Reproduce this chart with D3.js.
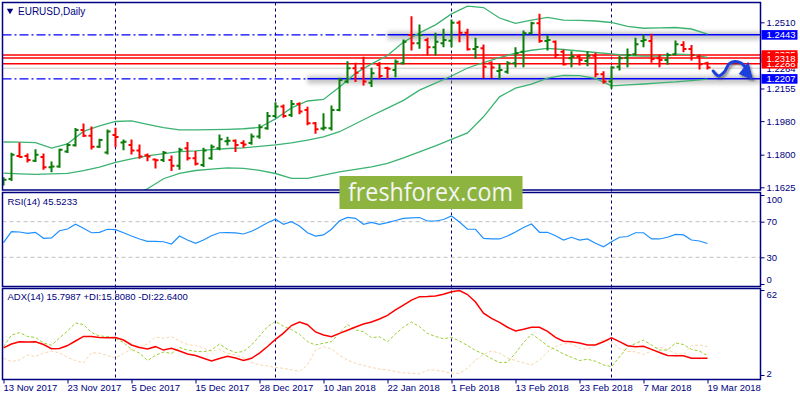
<!DOCTYPE html>
<html>
<head>
<meta charset="utf-8">
<script src="https://cdn.jsdelivr.net/npm/d3@7"></script>
<style>
    body { margin: 0; background: #fff; }
    text { font-family: "Liberation Sans", Arial, sans-serif; }
</style>
</head>
<body>
<div id="container"></div>
<script>
"use strict";

// trading calendar (weekdays, minus market holidays)
const firstDay = "2017-11-13";
const lastDay = "2018-03-19";
const holidays = ["2017-12-25", "2018-01-01"];

// daily OHLC
const open = [1.1654,1.1669,1.1793,1.1793,1.1768,1.1787,1.1733,1.1736,1.1817,1.1851,
    1.1933,1.1901,1.1843,1.1811,1.1906,1.1865,1.1852,1.1822,1.1797,1.1774,
    1.1772,1.1772,1.1740,1.1835,1.1781,1.1745,1.1781,1.1835,1.1872,1.1875,
    1.1862,1.1862,1.1897,1.1942,1.2008,1.2058,1.2013,1.2072,1.2040,1.1969,
    1.1940,1.1942,1.2040,1.2192,1.2264,1.2264,1.2186,1.2281,1.2265,1.2254,
    1.2290,1.2442,1.2398,1.2415,1.2376,1.2398,1.2411,1.2508,1.2454,1.2367,
    1.2371,1.2290,1.2249,1.2245,1.2290,1.2352,1.2451,1.2505,1.2410,1.2406,
    1.2352,1.2317,1.2326,1.2303,1.2331,1.2231,1.2192,1.2272,1.2320,1.2339,
    1.2410,1.2410,1.2317,1.2308,1.2339,1.2388,1.2367,1.2326,1.2290];
const high = [1.1676,1.1808,1.1862,1.1804,1.1826,1.1804,1.1761,1.1829,1.1858,1.1940,
    1.1965,1.1949,1.1883,1.1933,1.1942,1.1879,1.1879,1.1852,1.1804,1.1776,
    1.1817,1.1793,1.1835,1.1865,1.1817,1.1835,1.1852,1.1906,1.1894,1.1879,
    1.1875,1.1911,1.1960,1.2026,1.2079,1.2067,1.2090,1.2079,1.2054,1.1972,
    1.2019,1.2061,1.2210,1.2299,1.2290,1.2322,1.2264,1.2294,1.2269,1.2308,
    1.2415,1.2540,1.2496,1.2424,1.2451,1.2473,1.2522,1.2517,1.2473,1.2424,
    1.2388,1.2299,1.2285,1.2299,1.2374,1.2463,1.2510,1.2553,1.2438,1.2410,
    1.2362,1.2352,1.2335,1.2352,1.2344,1.2245,1.2272,1.2326,1.2367,1.2424,
    1.2442,1.2446,1.2335,1.2344,1.2410,1.2406,1.2385,1.2335,1.2296];
const low = [1.1638,1.1662,1.1787,1.1761,1.1763,1.1722,1.1708,1.1732,1.1811,1.1847,
    1.1897,1.1831,1.1838,1.1804,1.1843,1.1826,1.1804,1.1781,1.1768,1.1728,
    1.1763,1.1715,1.1722,1.1772,1.1745,1.1736,1.1776,1.1826,1.1852,1.1817,
    1.1840,1.1856,1.1888,1.1937,1.2001,1.2001,1.2005,1.2019,1.1960,1.1915,
    1.1933,1.1933,1.2036,1.2186,1.2192,1.2174,1.2165,1.2210,1.2210,1.2218,
    1.2287,1.2362,1.2371,1.2335,1.2335,1.2379,1.2379,1.2406,1.2362,1.2317,
    1.2213,1.2213,1.2206,1.2237,1.2272,1.2272,1.2447,1.2403,1.2362,1.2320,
    1.2281,1.2272,1.2281,1.2277,1.2218,1.2183,1.2156,1.2254,1.2272,1.2335,
    1.2379,1.2296,1.2272,1.2285,1.2336,1.2352,1.2308,1.2260,1.2260];
const close = [1.1665,1.1799,1.1788,1.1772,1.1799,1.1733,1.1736,1.1826,1.1852,1.1933,
    1.1901,1.1842,1.1879,1.1924,1.1895,1.1869,1.1822,1.1790,1.1790,1.1770,
    1.1810,1.1740,1.1826,1.1781,1.1751,1.1822,1.1843,1.1883,1.1875,1.1852,
    1.1854,1.1897,1.1947,1.2008,1.2058,1.2008,1.2072,1.2031,1.1969,1.1937,
    1.1945,1.2040,1.2201,1.2264,1.2240,1.2192,1.2237,1.2222,1.2261,1.2299,
    1.2406,1.2398,1.2442,1.2376,1.2406,1.2415,1.2508,1.2454,1.2365,1.2378,
    1.2272,1.2267,1.2254,1.2290,1.2344,1.2451,1.2505,1.2410,1.2415,1.2335,
    1.2285,1.2326,1.2308,1.2331,1.2231,1.2192,1.2267,1.2317,1.2335,1.2392,
    1.2415,1.2313,1.2308,1.2335,1.2392,1.2367,1.2335,1.2285,1.2267];

// bollinger bands, read at every 2nd bar
const bandStep = 2;
const bbUpper = [1.1868,1.1867,1.1865,1.1835,1.1858,1.1925,1.1954,1.1978,1.1981,1.1963,
    1.1945,1.1933,1.1933,1.1934,1.1936,1.1939,1.1946,1.1992,1.2051,1.2088,
    1.2096,1.2163,1.2236,1.2287,1.2332,1.2404,1.2453,1.2496,1.2555,1.2597,
    1.2589,1.2533,1.2504,1.2522,1.2536,1.2522,1.2520,1.2517,1.2509,1.2488,
    1.2478,1.2480,1.2482,1.2474,1.2446];
const bbMiddle = [1.1701,1.1697,1.1694,1.1697,1.1700,1.1715,1.1733,1.1759,1.1777,1.1793,
    1.1806,1.1816,1.1820,1.1827,1.1833,1.1836,1.1845,1.1852,1.1863,1.1878,
    1.1895,1.1923,1.1966,1.2009,1.2050,1.2091,1.2146,1.2184,1.2222,1.2265,
    1.2294,1.2321,1.2344,1.2360,1.2370,1.2364,1.2356,1.2348,1.2341,1.2332,
    1.2329,1.2329,1.2339,1.2337,1.2322];
const bbLower = [1.1542,1.1536,1.1531,1.1525,1.1525,1.1531,1.1542,1.1558,1.1579,1.1617,
    1.1671,1.1700,1.1715,1.1722,1.1729,1.1727,1.1716,1.1699,1.1673,1.1673,
    1.1690,1.1708,1.1721,1.1735,1.1753,1.1783,1.1815,1.1847,1.1882,1.1917,
    1.2003,1.2110,1.2157,1.2178,1.2210,1.2225,1.2224,1.2209,1.2169,1.2174,
    1.2179,1.2185,1.2190,1.2197,1.2205];

// indicators
const rsi = [46.4,58.8,58.4,57.0,58.1,51.3,51.8,59.9,61.8,67.1,
    62.6,57.6,58.1,61.5,61.0,57.6,53.9,50.6,48.0,47.8,
    47.5,44.9,53.9,49.4,45.7,49.4,54.3,57.6,57.8,57.4,
    56.2,59.2,63.7,68.9,72.7,67.1,70.0,65.2,57.6,53.9,
    55.1,61.5,71.1,74.9,73.8,67.1,69.3,67.1,68.9,71.3,
    73.8,74.2,74.7,70.8,70.8,72.5,76.4,69.7,61.5,61.5,
    51.3,50.6,50.6,53.9,58.4,63.5,67.4,58.1,58.1,54.3,
    49.4,52.5,49.4,50.6,45.7,41.9,47.5,52.5,53.4,57.6,
    57.6,50.6,50.6,52.5,55.8,55.1,49.4,48.3,45.5];
const adx = [21.1,23.9,25.5,25.3,25.5,23.5,20.6,20.7,22.8,26.0,
    29.2,29.2,28.5,28.3,28.5,26.7,23.2,21.4,20.4,22.0,
    19.6,20.8,18.9,16.8,15.8,13.8,11.9,13.6,15.3,14.0,
    12.2,13.8,17.5,22.1,27.1,31.6,36.9,39.4,37.5,32.4,
    30.2,29.0,31.4,33.6,35.9,38.0,39.4,41.5,44.1,47.9,
    51.4,54.9,57.3,57.4,57.8,59.0,60.8,61.6,58.8,53.5,
    45.6,42.0,39.1,35.7,33.1,34.3,35.7,35.7,32.8,28.6,
    25.8,25.5,24.6,23.2,23.2,25.5,28.3,25.6,22.7,22.0,
    22.3,20.1,17.9,15.8,15.6,15.6,13.8,13.8,13.8];
const plusDI = [22.0,30.2,31.9,29.2,28.5,24.6,23.0,28.1,33.1,38.7,
    37.6,32.0,29.5,29.2,27.9,24.9,20.0,17.5,12.2,15.9,
    18.2,17.2,21.4,19.6,18.7,18.4,19.6,23.9,20.1,17.9,
    18.6,23.2,29.5,36.1,39.8,36.4,34.0,30.7,25.5,23.2,
    24.4,25.5,31.6,37.6,33.8,32.6,28.3,29.0,25.5,30.9,
    35.9,39.4,36.1,31.3,29.2,27.6,28.6,26.0,22.8,19.3,
    16.8,13.5,10.8,11.0,17.5,24.9,30.9,27.1,22.5,20.0,
    16.8,14.5,12.2,13.1,11.7,9.1,7.9,14.7,21.8,24.2,
    26.6,23.2,19.6,19.6,24.6,23.5,20.1,18.9,15.6];
const minusDI = [13.8,11.5,12.6,16.1,15.1,17.5,18.8,17.7,14.4,12.2,
    10.6,17.7,17.3,15.8,14.0,17.3,20.0,21.8,23.9,28.8,
    27.9,29.0,26.0,23.5,22.8,21.1,18.7,20.0,17.3,16.1,
    14.1,10.8,9.1,8.4,7.3,6.7,5.7,4.6,9.1,19.6,
    22.0,20.4,15.8,12.6,10.3,8.7,7.3,6.2,5.5,4.5,
    3.6,3.2,2.8,5.5,5.5,4.5,3.2,3.2,6.9,12.4,
    16.5,18.9,17.5,14.0,12.2,10.5,9.1,12.6,18.2,22.1,
    24.2,23.9,21.1,20.2,23.5,26.7,25.6,20.7,18.6,18.4,
    16.5,18.9,21.8,20.0,17.3,16.5,22.8,23.2,22.0];

// axis ticks and levels
const priceTicks = [1.2510, 1.2155, 1.1980, 1.1800, 1.1625];
const rsiTicks = [100, 70, 30, 0];
const rsiLevels = [70, 30];
const adxTicks = [62, 2];
const blueLevels = [1.2443, 1.2207];
const blueSolidFrom = ["2018-01-22", "2018-01-08"];
const redLevels = [1.2335, 1.2288, 1.2318];
const bidPrice = 1.2264;

// forecast arrow (bar index, price)
const arrowIdx = [88.7, 89.4, 90.1, 90.7, 91.4, 92.2, 92.7];
const arrowPrice = [1.2249, 1.2222, 1.2244, 1.2287, 1.2300, 1.2292, 1.2271];
const headIdx = [91.9, 93.1, 93.7];
const headPrice = [1.2233, 1.2298, 1.2200];

const symbolTitle = "EURUSD,Daily";
const rsiTitle = "RSI(14) 45.5233";
const adxTitle = "ADX(14) 15.7987 +DI:15.8080 -DI:22.6400";

// layout
const left = 2.5, right = 760.5;
const panels = {
    main: { top: 2.5, bottom: 190 },
    rsi: { top: 192.5, bottom: 286.5 },
    adx: { top: 288.5, bottom: 379.5 },
};
const navy = "#000080";

// build the date list
const parseDay = d3.utcParse("%Y-%m-%d");
const dayKey = d3.utcFormat("%Y-%m-%d");
const dates = d3.utcDay
    .range(parseDay(firstDay), d3.utcDay.offset(parseDay(lastDay), 1))
    .filter((d) => d.getUTCDay() % 6 !== 0 && !holidays.includes(dayKey(d)));
const keys = dates.map(dayKey);
const n = dates.length;

// scales
const x = d3.scaleLinear().domain([0, n - 1]).range([3.5, 707.5]);
const yP = d3.scaleLinear().domain([1.1625, 1.2510]).range([187.3, 22.3]);
const yR = d3.scaleLinear().domain([0, 100]).range([284, 195]);
const yA = d3.scaleLinear().domain([2, 62]).range([375, 290]);

const svg = d3.select("#container")
    .append("svg")
    .attr("width", 800)
    .attr("height", 400)
    .style("display", "block");

const defs = svg.append("defs");
defs.append("filter")
    .attr("id", "glow")
    .attr("x", "-20%").attr("y", "-300%")
    .attr("width", "140%").attr("height", "700%")
    .append("feGaussianBlur")
    .attr("stdDeviation", 2.2);
defs.append("filter")
    .attr("id", "shadow")
    .append("feDropShadow")
    .attr("dx", 1.5).attr("dy", 2)
    .attr("stdDeviation", 1.2)
    .attr("flood-color", "#333")
    .attr("flood-opacity", 0.55);

Object.entries(panels).forEach(([name, p]) => {
    defs.append("clipPath")
        .attr("id", "clip-" + name)
        .append("rect")
        .attr("x", left)
        .attr("y", p.top)
        .attr("width", right - left)
        .attr("height", p.bottom - p.top);
});

// period separators (first bar of each month), through all panels
const monthStarts = d3.range(1, n).filter((i) => dates[i].getUTCMonth() !== dates[i - 1].getUTCMonth());
svg.append("g")
    .selectAll("line")
    .data(monthStarts)
    .join("line")
    .attr("x1", (i) => x(i)).attr("x2", (i) => x(i))
    .attr("y1", panels.main.top).attr("y2", panels.adx.bottom)
    .attr("stroke", navy)
    .attr("stroke-width", 1)
    .attr("stroke-dasharray", "3,3");

// ---------- main price panel ----------
const main = svg.append("g").attr("clip-path", "url(#clip-main)");

// bid line
main.append("line")
    .attr("x1", left).attr("x2", right)
    .attr("y1", yP(bidPrice)).attr("y2", yP(bidPrice))
    .attr("stroke", "#c8c8c8");

// red resistance lines
main.selectAll(".red")
    .data(redLevels)
    .join("line")
    .attr("x1", left).attr("x2", right)
    .attr("y1", (d) => yP(d)).attr("y2", (d) => yP(d))
    .attr("stroke", "#ff0000")
    .attr("stroke-width", 1.5);

// blue levels: dash-dot across, solid segment with soft shadow on the right
blueLevels.forEach((lvl, k) => {
    const x0 = x(keys.indexOf(blueSolidFrom[k]));
    main.append("rect")
        .attr("x", x0).attr("y", yP(lvl) - 3)
        .attr("width", right - x0).attr("height", 8)
        .attr("fill", "#9a9a9a")
        .attr("opacity", 0.55)
        .attr("filter", "url(#glow)");
    main.append("line")
        .attr("x1", left).attr("x2", x0)
        .attr("y1", yP(lvl)).attr("y2", yP(lvl))
        .attr("stroke", "#0000ff")
        .attr("stroke-width", 1.3)
        .attr("stroke-dasharray", "9,3,2,3");
    main.append("line")
        .attr("x1", x0).attr("x2", right)
        .attr("y1", yP(lvl)).attr("y2", yP(lvl))
        .attr("stroke", "#0000ff")
        .attr("stroke-width", 1.5);
});

// bollinger bands
const bandLine = d3.line()
    .x((d, i) => x(i * bandStep))
    .y((d) => yP(d));
[bbUpper, bbMiddle, bbLower].forEach((band) => {
    main.append("path")
        .datum(band)
        .attr("d", bandLine)
        .attr("fill", "none")
        .attr("stroke", "#3cb371")
        .attr("stroke-width", 1.3);
});

// OHLC bars
const bars = main.append("g")
    .selectAll("g")
    .data(d3.range(n))
    .join("g")
    .attr("stroke", (i) => (close[i] >= open[i] ? "#0a7d0a" : "#ff0000"))
    .attr("stroke-width", 2);
bars.append("line")
    .attr("x1", (i) => x(i)).attr("x2", (i) => x(i))
    .attr("y1", (i) => yP(high[i]) - 0.5).attr("y2", (i) => yP(low[i]) + 0.5);
bars.append("line")
    .attr("x1", (i) => x(i) - 3).attr("x2", (i) => x(i))
    .attr("y1", (i) => yP(open[i])).attr("y2", (i) => yP(open[i]));
bars.append("line")
    .attr("x1", (i) => x(i)).attr("x2", (i) => x(i) + 3)
    .attr("y1", (i) => yP(close[i])).attr("y2", (i) => yP(close[i]));

// forecast arrow
const arrowG = main.append("g").attr("filter", "url(#shadow)");
arrowG.append("path")
    .datum(d3.zip(arrowIdx, arrowPrice))
    .attr("d", d3.line().x((d) => x(d[0])).y((d) => yP(d[1])).curve(d3.curveCatmullRom))
    .attr("fill", "none")
    .attr("stroke", "#1f3fdc")
    .attr("stroke-width", 3)
    .attr("stroke-linecap", "round");
arrowG.append("path")
    .datum(d3.zip(headIdx, headPrice))
    .attr("d", d3.line().x((d) => x(d[0])).y((d) => yP(d[1])))
    .attr("fill", "#1f3fdc");

// ---------- RSI panel ----------
const rsiG = svg.append("g").attr("clip-path", "url(#clip-rsi)");
rsiG.selectAll(".lvl")
    .data(rsiLevels)
    .join("line")
    .attr("x1", left).attr("x2", right)
    .attr("y1", (d) => yR(d)).attr("y2", (d) => yR(d))
    .attr("stroke", "#c0c0c0")
    .attr("stroke-dasharray", "4,3");
rsiG.append("path")
    .datum(rsi)
    .attr("d", d3.line().x((d, i) => x(i)).y((d) => yR(d)))
    .attr("fill", "none")
    .attr("stroke", "#1e90ff")
    .attr("stroke-width", 1.2);

// ---------- ADX panel ----------
const adxG = svg.append("g").attr("clip-path", "url(#clip-adx)");
const adxLine = d3.line().x((d, i) => x(i)).y((d) => yA(d));
adxG.append("path")
    .datum(minusDI)
    .attr("d", adxLine)
    .attr("fill", "none")
    .attr("stroke", "#f5d7ad")
    .attr("stroke-width", 1)
    .attr("stroke-dasharray", "3,2");
adxG.append("path")
    .datum(plusDI)
    .attr("d", adxLine)
    .attr("fill", "none")
    .attr("stroke", "#9acd32")
    .attr("stroke-width", 1)
    .attr("stroke-dasharray", "3,2");
adxG.append("path")
    .datum(adx)
    .attr("d", adxLine)
    .attr("fill", "none")
    .attr("stroke", "#ff0000")
    .attr("stroke-width", 1.5);

// panel frames
Object.values(panels).forEach((p) => {
    svg.append("rect")
        .attr("x", left).attr("y", p.top)
        .attr("width", right - left).attr("height", p.bottom - p.top)
        .attr("fill", "none")
        .attr("stroke", navy)
        .attr("stroke-width", 1.5);
});

// right axes
function rightAxis(scale, values, fmt, nudge) {
    const g = svg.append("g")
        .attr("transform", `translate(${right}, 0)`)
        .call(d3.axisRight(scale).tickValues(values).tickFormat(fmt).tickSize(4).tickPadding(2));
    g.select(".domain").remove();
    g.selectAll("line").attr("stroke", navy);
    g.selectAll("text")
        .attr("fill", navy)
        .style("font-size", "9.5px")
        .attr("y", (d) => nudge[d] || 0);
    return g;
}
rightAxis(yP, priceTicks, d3.format(".4f"), {});
rightAxis(yR, rsiTicks, d3.format("d"), { 100: 4, 0: -5 });
rightAxis(yA, adxTicks, d3.format("d"), { 62: 4, 2: -2 });

// price level labels
function levelLabel(price, bg, fg) {
    const g = svg.append("g").attr("transform", `translate(${right}, ${yP(price)})`);
    g.append("rect")
        .attr("x", 1).attr("y", -4.7)
        .attr("width", 36).attr("height", 9.6)
        .attr("fill", bg);
    g.append("text")
        .attr("x", 6).attr("y", 3.5)
        .attr("fill", fg)
        .style("font-size", "9.5px")
        .text(d3.format(".4f")(price));
}
levelLabel(blueLevels[0], "#0000ff", "#fff");
levelLabel(redLevels[0], "#ff0000", "#fff");
levelLabel(bidPrice, "#ffffff", navy);
levelLabel(redLevels[1], "#ff0000", "#fff");
levelLabel(redLevels[2], "#ff0000", "#fff");
levelLabel(blueLevels[1], "#0000ff", "#fff");

// bottom date axis
const xAxis = svg.append("g")
    .attr("transform", `translate(0, ${panels.adx.bottom})`)
    .call(d3.axisBottom(x)
        .tickValues(d3.range(0, n, 8))
        .tickFormat((i) => d3.utcFormat("%-d %b %Y")(dates[i]))
        .tickSize(4)
        .tickPadding(1));
xAxis.select(".domain").remove();
xAxis.selectAll("line").attr("stroke", navy);
xAxis.selectAll("text")
    .attr("fill", navy)
    .attr("text-anchor", "start")
    .attr("x", -0.5)
    .style("font-size", "9.5px");

// titles
svg.append("path")
    .attr("d", d3.symbol(d3.symbolTriangle, 18)())
    .attr("transform", "translate(10, 10.5) rotate(180)")
    .attr("fill", navy);
svg.append("text")
    .attr("x", 18).attr("y", 14.5)
    .attr("fill", navy)
    .style("font-size", "10px")
    .text(symbolTitle);
svg.append("text")
    .attr("x", 7.5).attr("y", 205)
    .attr("fill", navy)
    .style("font-size", "9.5px")
    .text(rsiTitle);
svg.append("text")
    .attr("x", 7.5).attr("y", 300)
    .attr("fill", navy)
    .style("font-size", "9.5px")
    .text(adxTitle);

// watermark
svg.append("rect")
    .attr("x", 339.5).attr("y", 176)
    .attr("width", 183).attr("height", 33)
    .attr("fill", "#8cb43f");
svg.append("text")
    .attr("x", 348).attr("y", 201)
    .attr("fill", "#f4f4f4")
    .attr("textLength", 165)
    .attr("lengthAdjust", "spacingAndGlyphs")
    .style("font-family", "'Open Sans', 'DejaVu Sans', sans-serif")
    .style("font-size", "25px")
    .text("freshforex.com");
</script>
</body>
</html>
